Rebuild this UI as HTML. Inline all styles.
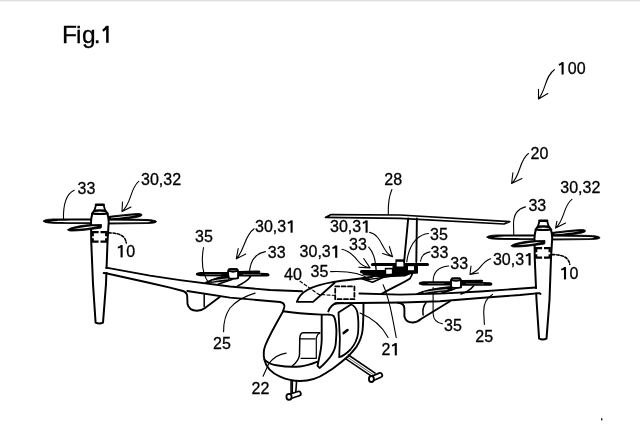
<!DOCTYPE html>
<html><head><meta charset="utf-8"><style>
html,body{margin:0;padding:0;background:#fff;}
svg{display:block;will-change:transform;}
text{font-family:"Liberation Sans",sans-serif;font-size:16px;fill:#000;stroke:#000;stroke-width:0.3px;}
text.fig{font-size:24.5px;}
</style></head><body>
<svg width="640" height="432" viewBox="0 0 640 432">
<defs>
<g id="one" fill="none" stroke="#000" stroke-linecap="butt"><path d="M0,0 L0,12.3" stroke-width="2.1"/><path d="M-0.3,0.5 C-0.9,1.7 -2.1,2.4 -3.8,2.6" stroke-width="1.8"/></g>
<g id="srot" stroke="none" fill="#000">
<path d="M-37.2,6.2 C-37.2,4.6 -34,4.1 -30,4.1 L-5,4 L-5,8.4 L-30,8.2 C-34,8.2 -37.2,7.8 -37.2,6.2 Z"/>
<path d="M-28,6.1 L-12,6 L-12,6.5 L-28,6.6 Z" fill="#fff" opacity="0.6"/>
<path d="M5.5,2.9 L25,2.5 C27.8,2.5 27.8,4.4 26,4.8 L34,5 C37.2,5.2 37.2,8.5 34,8.6 L5.5,8.5 Z"/>
<path d="M10,6.3 L28,6.5 L28,7 L10,6.9 Z" fill="#fff" opacity="0.6"/>
<path d="M-5,10.2 L-5,3.2 C-5,1.6 -3.6,1.2 -2,1.2 L2,1.2 C3.6,1.2 5,1.6 5,3.2 L5,10.2 Q0,11.4 -5,10.2 Z" fill="#fff" stroke="#000" stroke-width="1.9"/>
<path d="M-4.2,3.1 Q0,4.6 4.2,3.1" stroke="#000" stroke-width="1.6"/>
<path d="M-3.8,1.3 L3.8,1.3" stroke="#000" stroke-width="2.2"/>
</g>
</defs>
<rect x="0" y="0" width="640" height="1" fill="#dedede"/>
<rect x="0" y="1" width="640" height="1" fill="#f6f6f6"/>
<rect x="601" y="418.2" width="1.4" height="2.2" fill="#222"/>
<g><text class="fig" x="62.1" y="42.8">F</text><text class="fig" x="75.9" y="42.8">i</text><text class="fig" x="82" y="42.8">g</text><text class="fig" x="93.8" y="42.8">.</text><path d="M107.4,25.8 L107.4,42.8" stroke="#000" stroke-width="2.5" fill="none"/><path d="M106.8,26.6 C105.6,28.6 104.5,29.8 102.8,30.8" stroke="#000" stroke-width="2.2" fill="none"/></g>

<!-- labels -->
<g id="labels">
<text x="567.8" y="74.4">00</text><use href="#one" x="562.6" y="62.2"/>
<text x="530.6" y="159">20</text>
<text x="560.3" y="193.4">30,32</text>
<text x="528.4" y="210.5">33</text>
<text x="77.6" y="194">33</text>
<text x="141" y="185">30,32</text>
<text x="126.2" y="257.3">0</text><use href="#one" x="121.6" y="245.1"/>
<text x="569.4" y="279.2">0</text><use href="#one" x="565" y="267.1"/>
<text x="384.3" y="185.2">28</text>
<text x="330" y="232.3">30,3</text><use href="#one" x="366.6" y="220.4"/>
<text x="349" y="249.7">33</text>
<text x="430" y="239.5">35</text>
<text x="430.5" y="257.5">33</text>
<text x="450.3" y="269.3">33</text>
<text x="492.9" y="265">30,3</text><use href="#one" x="529.6" y="253.1"/>
<text x="299.6" y="257.4">30,3</text><use href="#one" x="336.2" y="245.5"/>
<text x="267.8" y="257.8">33</text>
<text x="310.6" y="277.3">35</text>
<text x="284" y="279.8">40</text>
<text x="195" y="242">35</text>
<text x="255" y="232.3">30,3</text><use href="#one" x="291.6" y="220.4"/>
<text x="213" y="349">25</text>
<text x="475.3" y="341.5">25</text>
<text x="444" y="331">35</text>
<text x="381.6" y="355.2">2</text><use href="#one" x="395.8" y="343.1"/>
<text x="251.5" y="394">22</text>
</g>

<g fill="none" stroke="#000" stroke-linecap="round" stroke-linejoin="round">
<!-- leaders thin -->
<g stroke-width="1.1">
<!-- 100 -->
<path d="M554.4,69.7 C545,76 546,90 538.5,99 M538.5,89.4 L538.5,99 L547.8,93.5"/>
<!-- 20 -->
<path d="M528.5,153.5 C519,160 521,175 511.6,183.5 M512.9,172.8 L511.6,183.5 L521.9,178.5"/>
<!-- 30,32 left -->
<path d="M138.8,181.4 C130,188 132,203 122,211.6 M122.5,202 L122,211.6 L131,207"/>
<!-- 33 left -->
<path d="M74.2,190.2 C66,194 63,205 63.5,220"/>
<!-- 10 left dashed -->
<path d="M108.5,232.9 C115,232.8 121,234 124,237.5 C125.5,239.5 126,241 126.3,243" stroke-dasharray="2.6,1.8" stroke-width="1.6"/>
<!-- 30,32 right -->
<path d="M571.9,199.4 C563,206 565,220 555.6,228.1 M556.9,221.2 L555.6,228.1 L565.6,223.1"/>
<!-- 33 right -->
<path d="M525.5,206.9 C517,209 513.5,216 513.5,224 L513.8,235.5"/>
<!-- 10 right dashed -->
<path d="M552,254.6 C558.5,254.5 564.5,255.7 567.5,259.2 C569,261.2 569.5,262.5 569.8,264.5" stroke-dasharray="2.6,1.8" stroke-width="1.6"/>
<!-- 28 -->
<path d="M391.9,189.5 C389,196 388,205 388.3,214.5"/>
<!-- 35 left -->
<path d="M203.5,247.5 C201,262 203,275 208.7,283"/>
<!-- 30,31 left small -->
<path d="M254.1,228.8 C244,236 245,250 236.3,258.8 M238.2,248.5 L236.3,258.8 L245.7,254.1"/>
<!-- 33 left small -->
<path d="M265.4,251.6 C253,254 249,264 249.4,277"/>
<!-- 30,31 upper center -->
<path d="M369.4,232.2 C378,234 381,243 384,248 C386,252 389,255 392.5,256.6 M389.4,246.6 L392.5,256.6 L382.5,253.5"/>
<!-- 33 center -->
<path d="M368.7,247.2 C373,252 375,258 375.6,264.7"/>
<!-- 30,31 left center -->
<path d="M341.9,249.3 C350,251 355,257 358,261 C361,265 365,267 370,267.9 M363.7,258.5 L370,267.9 L358.7,267.2"/>
<!-- 35 center left -->
<path d="M330.6,271.6 C345,271 360,272 370,279.7"/>
<!-- 40 dashed -->
<path d="M300,281.2 L318.7,294.4 L335,295.5" stroke-dasharray="3,2.2"/>
<!-- 35 center right (tail inner) -->
<path d="M428.5,233.5 C422,234 418,237.5 415.7,239.8 C411,245 408,251 406.8,262"/>
<!-- 33 center right -->
<path d="M430,251.9 C424,253 421,257 420.6,261.2"/>
<!-- 33 lower right -->
<path d="M448.7,266 C438,267 433,273 433.1,281.9"/>
<!-- 30,31 right -->
<path d="M490.6,258.7 C483,261 481,268 476,271 C474,272.5 472,273.5 470,274.4 M471,266 L470,274.4 L478.5,273"/>
<!-- 35 right lower -->
<path d="M433.1,287.5 L433.1,313.7 C433.5,319 437,323 442.5,323.7"/>
<!-- 25 right -->
<path d="M492.5,294.4 C486,298 483.5,305 483.7,312 L484.4,324.4"/>
<!-- 25 left -->
<path d="M255.1,293.1 C245,296 237,300 230,308 C225,315 223.5,322 223.6,331.7"/>
<!-- 21 -->
<path d="M360,313.1 C372,318 382,326 388.1,337.5"/>
<path d="M383.1,284.7 C389,298 392,315 396.2,337.5"/>
<!-- 22 -->
<path d="M263.1,376.2 L268.7,363.7 C273,358 279,354 286.2,353.1"/>
</g>

<!-- nacelle / rotor 30,32 (left) -->
<g id="rotL">
<path d="M43.5,221.1 C43.5,219.9 47,219.3 53,219 L92,218.9 L92,223.7 L53,223.3 C47,223 43.5,222.4 43.5,221.1 Z" fill="#000" stroke="#000" stroke-width="0.9"/>
<path d="M50,221.2 C56,220.5 70,220.4 92,220.4 L92,222.2 C70,222.3 56,222.1 50,221.2 Z" fill="#fff" stroke="none"/>
<path d="M108,218.6 L147,219.5 C153,219.9 156.4,220.6 156.4,221.7 C156.4,222.8 153,223.3 147,223.5 L108,224 Z" fill="#000" stroke="#000" stroke-width="0.9"/>
<path d="M108,220.5 L146,221.1 C149,221.3 150.5,221.5 150.5,221.7 C150.5,222 149,222.1 146,222.2 L108,222.5 Z" fill="#fff" stroke="none"/>
<path d="M107,216.6 C118,215.3 130,213.9 137,213.5 C140,213.3 142,213.9 142,214.9 C142,216 140,216.8 136,217.5 C128,219 118,219.8 107,219.8 Z" fill="#000" stroke="#000" stroke-width="0.8"/>
<path d="M111,217.7 C120,216.8 128,215.9 136.5,215 C131,216.3 122,217.6 111,218.3 Z" fill="#fff" stroke="none"/>
<path d="M94.6,210.4 C92.6,212 91.3,216 91,222 L91.25,242 L93,284 L95.6,322.7 Q99.3,324.3 103,322.7 L106,284 L107.5,242 L108.7,222 C108.5,216 107.2,212 105,210.4" fill="#fff" stroke-width="2"/>
<path d="M67.8,229.8 C67.8,228.4 76,226 88,224.8 L101.5,224.6 L101.2,228 C92,229.4 80,231 72,231 C69.5,231 67.8,230.8 67.8,229.8 Z" fill="#000" stroke="#000" stroke-width="0.9"/>
<path d="M73,229.3 C81,227.4 90,226.2 98,226 C90,227.8 81,228.9 73,229.3 Z" fill="#fff" stroke="none"/>
<path d="M96,204.9 L103.6,204.9 L105.2,210.4 L94.4,210.4 Z" fill="#fff" stroke-width="1.8"/>
<path d="M96,204.8 L103.6,204.8" stroke-width="2.6"/>
<path d="M94.4,210.9 Q100,210 105.3,210.9" stroke-width="2"/>
<path d="M92,213.6 Q100,214.6 107.8,213.6" stroke-width="2"/>
<path d="M92.7,236.3 L92.7,232.2 L98.6,232.2 M100.5,232.2 L106.2,232.2 L106.2,236.3 M106.2,238.2 L106.2,241.6 L100.5,241.6 M98.6,241.6 L92.7,241.6 L92.7,238.2" stroke-width="2.3" stroke-linecap="butt" stroke-linejoin="miter"/>
</g>
<use href="#rotL" transform="translate(443.5,16)"/>
<!-- masks for wing joins -->
<rect x="104.5" y="268.9" width="4" height="3.2" fill="#fff" stroke="none"/>
<rect x="533" y="288.9" width="4.5" height="3.6" fill="#fff" stroke="none"/>
<!-- main outlines -->
<g stroke-width="1.9">
<!-- wing upper edge -->
<path d="M106.2,267.6 L150,275.6 L180,280.1 L230,286.5 L270,290 L302,291.3"/>
<path d="M359.4,293.5 L400,294.6 L440,293.6 L480,291.5 L535.6,287.5"/>
<!-- wing lower edge left -->
<path d="M103.7,273 L106,273.2 L150,283 L170,287.7 L183,291 Q187,292.5 187.2,296 L187.5,304 Q189,310.5 197,310.7 Q202,310.5 205,308 L219.7,297.1"/>
<path d="M187.3,291 L230,297.6 L280,302 Q285,303 284.3,307 L283.1,311.3"/>
<path d="M204.2,294.7 L204.2,306.5" stroke-width="1.5"/>
<!-- wing lower edge right -->
<path d="M335.5,303.2 L402.5,302.5 L440,301.3 L480,298 L520,295 L539.4,293.1 L540.5,294"/>
<path d="M398,302.8 Q404.4,303 404.4,309 L404.4,316.5 Q406,322.5 412.5,322.5 Q417,322.5 421,319 L450,301.3"/>
<path d="M426.2,302.5 C423,306 422.5,311 423.1,315" stroke-width="1.5"/>
<!-- canopy 40 -->
<path d="M296.9,301.9 L313.1,301.9 L335,282.5 M296.9,301.9 C300,292 310,286 333.8,281.9 C345,280 360,279 372,277"/>
<!-- fuselage spine -->
<path d="M381.2,294.1 C392,288 405,282 410,278.5 C412,276 412.5,273 412.5,271"/>
<!-- fuselage front -->
<path d="M283.1,311.3 C277,322 270,334 265.5,345 C263.5,350 263.5,356 264.4,359.6 C266,368 272,373 280,376.6 C287,379.6 294,381 300,381 C309,381 318,378.5 326,373 C329,371 331.5,369.5 334.3,367.4 C339,364 344,360 348.2,356.3 C351.5,353 354,350 356.6,346.6 C359.5,342 361.8,337 362.6,330 C363.3,322 363.5,312 363.5,303.5"/>
<!-- windshield top -->
<path d="M283.1,311.3 C293,313 305,314 321.7,314.6 L329,314.6"/>
<!-- windshield bottom -->
<path d="M264.4,359.6 C268,363 272,365 278,365.5 C285,366.8 292,367 300,366.5 C306,366 312,364 317.5,361.7"/>
<!-- left pillar -->
<path d="M321.7,314.6 L321.7,340 C321.5,350 319,358 317.5,365.8 L319.6,367.9 C322,366 324,364 326,361.8 C329,358.5 330.5,357 331.6,354.9 C334,351 335.5,347 335.7,343.8 C336.2,338 336.5,333 336.4,329.9 C336,322 335,318 333.6,316 C332.5,315 331,314.6 329,314.6"/>
<!-- top behind pillar -->
<path d="M328.3,311.4 C330,307 332.5,303.8 337,303.2 L343,302.9"/>
<!-- door panel -->
<path d="M338.5,312.4 L351,304.5 C354,305.3 356,308 357.3,312 C358.4,318 358.6,326 358.1,333 C357.2,340 354.5,345 350.5,349.5 C347,353 343.5,356 339.2,357.2 L339.9,338 Z" stroke-width="1.8"/>
<path d="M343.7,333.1 L347.5,330.1" stroke-width="2.6"/>
<!-- seat -->
<path d="M292.5,365.8 C297,362 299,359 299.5,355 L299.8,338 C300,335 301,333 303,332.8 L319.6,332.8" stroke-width="1.5"/>
<path d="M300.5,338.8 L315,338.8 M301,358.3 L315.5,358.3 M316.3,338 L316.3,358.5 M316.3,338 C317,335 318.5,333.5 320,333" stroke-width="1.2"/>
<!-- landing gear left -->
<path d="M291.1,381.2 L291.1,393.3 M296.6,381 L295.8,392.2" stroke-width="1.6"/>
<path d="M292.6,381.2 L292.5,393" stroke-width="1.1"/>
<path d="M289.5,396.6 L298.6,393.6" stroke-width="6.2" stroke="#000"/>
<path d="M289.5,396.6 L298.6,393.6" stroke-width="2.8" stroke="#fff"/>
<ellipse cx="289" cy="396.8" rx="2.6" ry="3" fill="#fff" stroke-width="1.8"/>
<!-- landing gear right -->
<path d="M348.4,355 L375.1,373.1 M345.5,358.7 L370.7,375.7" stroke-width="1.6"/>
<path d="M347,356.9 L373,374.5" stroke-width="0.6"/>
<path d="M372,378.6 L380,375.2" stroke-width="6.2" stroke="#000"/>
<path d="M372,378.6 L380,375.2" stroke-width="2.8" stroke="#fff"/>
<ellipse cx="371.4" cy="379" rx="2.5" ry="3" fill="#fff" stroke-width="1.8"/>

<!-- small rotors -->
<use href="#srot" transform="translate(233.1,268)"/>
<use href="#srot" transform="translate(456,277.2)"/>
<g stroke-width="1.6">
<path d="M205.5,282.4 C212,279 220,276.5 229,275.5 L229,280.4 C220,281.4 212,282.8 205.5,282.4 Z" fill="#000" stroke-width="1"/>
<path d="M212,281.2 C218,279.9 223,279.2 228,278.9" stroke="#fff" stroke-width="0.8"/>
<path d="M218.5,284 L232,279.5 M250.7,276.5 C248,280 243,283.5 237.6,285.9" stroke-width="1.5"/>
<path d="M417,293.6 C424,290.4 438,287.5 452,286.6 L452,290.4 C440,291.8 426,293.8 417,293.6 Z" fill="#000" stroke-width="1"/>
<path d="M424,292.4 C432,291 440,290 447,289.6" stroke="#fff" stroke-width="0.8"/>
<path d="M441.5,293.2 L455,288.7 M473.7,285.7 C471,289.2 466,292.2 461,294" stroke-width="1.5"/>
</g>
<!-- center back rotor -->
<g stroke="none" fill="#000">
<rect x="371" y="263" width="58" height="3" rx="1.5"/>
<rect x="360" y="270.1" width="58" height="3.1" rx="1.5"/>
<path d="M362.5,272.8 L392,272.6 L392,275.8 L376,276.3 L365,275.6 C362.5,275.3 361.8,274.2 362.5,272.8 Z"/>
<path d="M375.6,265 L376.2,270.5" stroke="#000" stroke-width="1.4"/>
<path d="M392.5,265.8 L418,265.8 L418,273.4 L411,274 L405,276.5 L380,277.6 L374.5,275.8 L385,273.2 L392.5,273.2 Z"/>
<rect x="395.4" y="259.3" width="9.2" height="8.7"/>
<rect x="384.8" y="267.8" width="8.4" height="7.3"/>
<rect x="396.7" y="261.8" width="6.7" height="4.7" fill="#fff"/>
<rect x="386.2" y="269.4" width="5.7" height="4.4" fill="#fff"/>
<rect x="408" y="266.2" width="6" height="4" fill="#fff"/>
</g>
<path d="M361,278.6 C370,276.5 380,275.3 392,274.3 M366,279.8 L392.5,276" stroke-width="1.3"/>
<path d="M362.5,279.1 L372.5,282.2 L386.2,276" stroke-width="1.6"/>
<rect x="335.2" y="286.4" width="19.2" height="12.8" stroke-width="1.8" stroke-dasharray="4,2.4" fill="none"/>
<!-- horizontal stabilizer 28 -->
<path d="M325.5,217.4 L331,214.6 L400,215 L509.7,221.6 L504,224 L400,218.3 Z" fill="#fff" stroke-width="1.7"/>
<!-- vertical tail -->
<path d="M408.2,218.4 L404.1,262 M416.9,218.4 L416.3,262"/>
</g>


</g>
</svg>
</body></html>
